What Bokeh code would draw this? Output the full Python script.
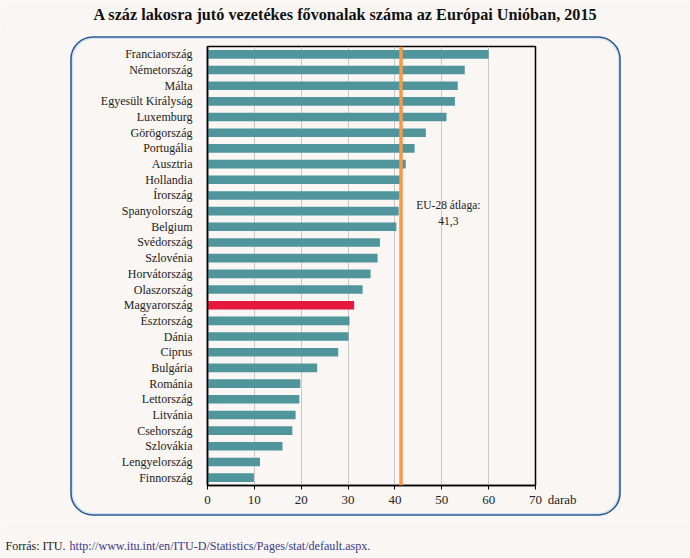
from urllib.parse import quote
from bokeh.plotting import figure
from bokeh.layouts import column
from bokeh.models import FactorRange, Range1d, Span, Label, ColumnDataSource, Title
from bokeh.embed import file_html
from bokeh.resources import INLINE

# ---- data ----
countries = ["Franciaország", "Németország", "Málta", "Egyesült Királyság", "Luxemburg",
             "Görögország", "Portugália", "Ausztria", "Hollandia", "Írország",
             "Spanyolország", "Belgium", "Svédország", "Szlovénia", "Horvátország",
             "Olaszország", "Magyarország", "Észtország", "Dánia", "Ciprus", "Bulgária",
             "Románia", "Lettország", "Litvánia", "Csehország", "Szlovákia",
             "Lengyelország", "Finnország"]
values = [60.0, 54.9, 53.4, 52.8, 51.0, 46.6, 44.2, 42.3, 41.3, 41.0, 40.8, 40.3,
          36.8, 36.3, 34.8, 33.1, 31.3, 30.3, 30.1, 27.9, 23.4, 19.8, 19.6, 18.8,
          18.1, 16.0, 11.2, 9.9]
highlight = "Magyarország"
eu_avg = 41.3
eu_label = ["EU-28 átlaga:", "41,3"]
x_ticks = [0, 10, 20, 30, 40, 50, 60, 70]
unit_label = "darab"
title_text = "A száz lakosra jutó vezetékes fővonalak száma az Európai Unióban, 2015"
source_prefix = "Forrás: ITU."
source_url = "http://www.itu.int/en/ITU-D/Statistics/Pages/stat/default.aspx."

BG = "#f9f6f3"
TEAL = "#4f959b"
RED = "#e5193d"
ORANGE = "#f59a4b"
BOX = "#2c5a94"
FONT = "Liberation Serif"
W = 690


def text_strip(h):
    f = figure(width=W, height=h, x_range=Range1d(0, W), y_range=Range1d(0, h),
               x_axis_type=None, y_axis_type=None, output_backend="svg",
               toolbar_location=None, min_border=0, frame_align=False,
               background_fill_color=BG, border_fill_color=BG, outline_line_color=None)
    f.grid.visible = False
    return f


# ---- title strip ----
t = text_strip(30)
t.add_layout(Label(x=93, y=14, x_units="canvas", y_units="canvas", text=title_text,
                   text_font=FONT, text_font_style="bold", text_font_size="16.2px",
                   text_align="left", text_baseline="middle", text_color="#111111"))

# ---- main chart ----
colors = [RED if c == highlight else TEAL for c in countries]
src = ColumnDataSource(dict(country=countries, value=values, color=colors))

box_svg = ("<svg xmlns='http://www.w3.org/2000/svg' width='690' height='490'>"
           "<rect x='72.5' y='8.5' width='546' height='475' rx='21' ry='21' fill='none' "
           "stroke='#cfe0f2' stroke-width='1.2'/>"
           "<rect x='71' y='7' width='549' height='478' rx='22' ry='22' fill='none' "
           "stroke='" + BOX + "' stroke-width='1.6'/></svg>")

p = figure(width=W, height=490,
           y_range=FactorRange(factors=countries[::-1]),
           x_range=Range1d(0, 70),
           output_backend="svg", toolbar_location=None, frame_align=False,
           min_border_left=207, min_border_right=155,
           min_border_top=16, min_border_bottom=35,
           background_fill_color=BG, border_fill_color=None,
           styles={"background-color": BG,
                   "background-image": 'url("data:image/svg+xml;utf8,' + quote(box_svg, safe="") + '")',
                   "background-repeat": "no-repeat"})

p.hbar(y="country", left=0, right="value", height=0.55,
       fill_color="color", line_color=None, source=src)

p.add_layout(Span(location=eu_avg, dimension="height",
                  line_color=ORANGE, line_width=3.5))

p.xaxis.ticker = x_ticks
p.xaxis.major_label_text_font = FONT
p.xaxis.major_label_text_font_size = "13px"
p.xaxis.major_label_text_color = "#222222"
p.xaxis.axis_line_width = 1.5
p.xaxis.axis_line_color = "black"
p.xaxis.major_tick_out = 4
p.xaxis.major_tick_in = 0
p.xaxis.minor_tick_line_color = None
p.xaxis.major_label_standoff = 6

p.yaxis.major_label_text_font = FONT
p.yaxis.major_label_text_font_size = "12px"
p.yaxis.major_label_text_color = "#222222"
p.yaxis.major_tick_line_color = None
p.yaxis.minor_tick_line_color = None
p.yaxis.axis_line_width = 1.5
p.yaxis.axis_line_color = "black"
p.yaxis.major_label_standoff = 9

p.ygrid.grid_line_color = None
p.xgrid.grid_line_color = "#c8c8c8"
p.xgrid.grid_line_width = 1

p.outline_line_color = "black"
p.outline_line_width = 1.5

# unit label next to the last tick
p.add_layout(Title(text=unit_label, align="right", offset=-41, vertical_align="top",
                   standoff=-30, text_font=FONT, text_font_style="normal",
                   text_font_size="13px", text_color="#222222"), "below")

p.add_layout(Label(x=51.4, y=174, x_units="data", y_units="canvas", text=eu_label[0],
                   text_font=FONT, text_font_size="11.5px",
                   text_align="center", text_baseline="middle", text_color="#222222"))
p.add_layout(Label(x=51.4, y=190, x_units="data", y_units="canvas", text=eu_label[1],
                   text_font=FONT, text_font_size="11.5px",
                   text_align="center", text_baseline="middle", text_color="#222222"))

# ---- source strip ----
s = text_strip(38)
s.add_layout(Label(x=5, y=25, x_units="canvas", y_units="canvas", text=source_prefix,
                   text_font=FONT, text_font_size="12px",
                   text_align="left", text_baseline="middle", text_color="#222222"))
s.add_layout(Label(x=69, y=25, x_units="canvas", y_units="canvas", text=source_url,
                   text_font=FONT, text_font_size="12.1px",
                   text_align="left", text_baseline="middle", text_color="#3b3b8a"))

layout = column(t, p, s, spacing=0)
open("out.html", "w").write(file_html(layout, INLINE))
